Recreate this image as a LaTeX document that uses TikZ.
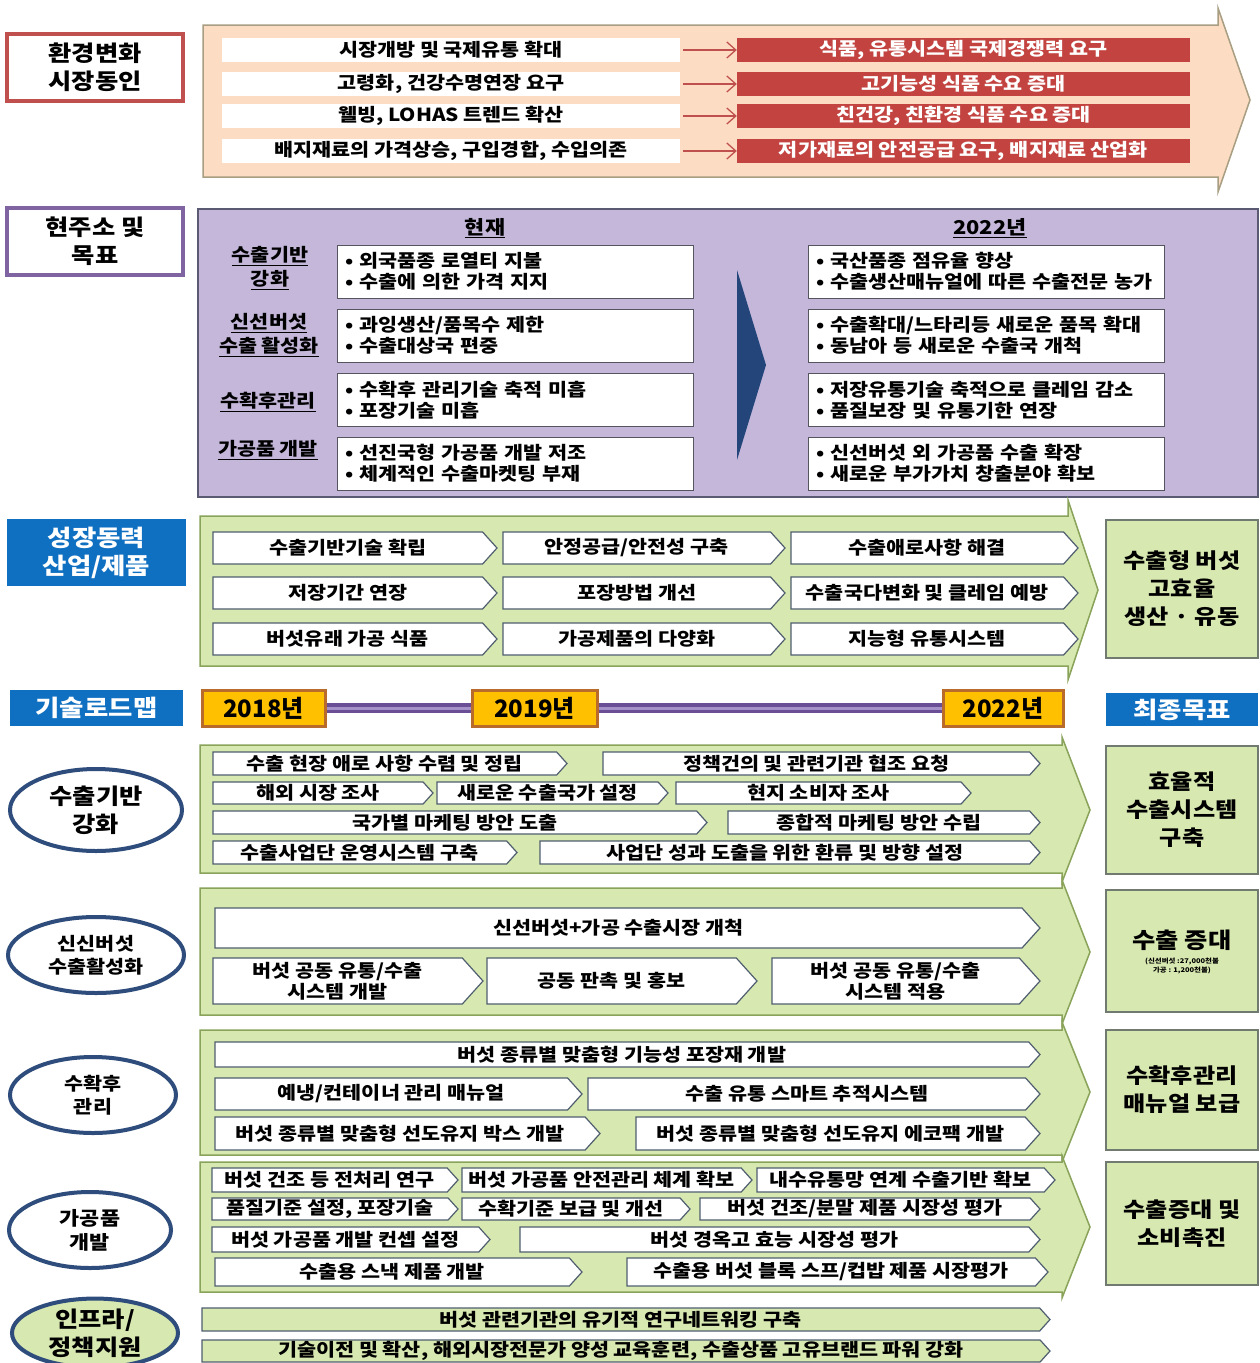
\documentclass[tikz,border=0pt]{standalone}
\usepackage{fontspec}
\setmainfont{Noto Sans CJK KR}[FakeStretch=1.15]
\newfontfamily\plainf{Noto Sans CJK KR}
\usetikzlibrary{arrows.meta,shapes.geometric}
\newcommand\fsz[2]{\fontsize{#1}{#2}\selectfont}
\definecolor{peach}{HTML}{FCDCC2}
\definecolor{peachline}{HTML}{A89E82}
\definecolor{redbox}{HTML}{C2433F}
\definecolor{redline}{HTML}{C0504D}
\definecolor{purfill}{HTML}{C4B7DA}
\definecolor{purline}{HTML}{8064A2}
\definecolor{purbox}{HTML}{5A5A72}
\definecolor{grnfill}{HTML}{D7E8B0}
\definecolor{grnline}{HTML}{8AA35A}
\definecolor{bluefill}{HTML}{0F6FC1}
\definecolor{ellline}{HTML}{2F4D7C}
\definecolor{gold}{HTML}{FFC000}
\definecolor{goldline}{HTML}{B86B2A}
\definecolor{navy}{HTML}{24457A}
\definecolor{chevline}{HTML}{4F5F70}
\definecolor{boxline}{HTML}{555560}
\definecolor{tlout}{HTML}{6A4F96}
\definecolor{tlin}{HTML}{A592C8}
\definecolor{goalline}{HTML}{707A70}
% box from corners: style, name, x1, y1, x2, y2, text
\newcommand\bx[7]{\node[#1, minimum width={#5-#3}, minimum height={#6-#4}] (#2) at ({(#3+#5)/2},{(#4+#6)/2}) {#7};}
% chevron: path style, node style, name, x1, y1, x2, y2, text
\newcommand\chv[8]{%
 \path[#1] (#4,#5) -- ({#6-0.45*(#7-#5)},#5) -- (#6,{(#5+#7)/2}) -- ({#6-0.45*(#7-#5)},#7) -- (#4,#7) -- cycle;
 \node[#2] (#3) at ({(#4+#6-0.45*(#7-#5))/2},{(#5+#7)/2}) {#8};}
\tikzset{
 lblbox/.style={fill=white, line width=4pt, inner sep=0pt, align=center, font=\fsz{22}{28}\bfseries},
 bluelbl/.style={fill=bluefill, text=white, inner sep=0pt, align=center, font=\fsz{23}{28}\bfseries},
 wrow/.style={fill=white, inner sep=0pt, font=\fsz{18}{22}\bfseries},
 rrow/.style={fill=redbox, text=white, inner sep=0pt, font=\fsz{18}{22}\bfseries},
 redarr/.style={draw=redline, line width=1.3pt, shorten <=3pt, -{Straight Barb[length=9pt,width=16pt]}},
 tbox/.style={draw=boxline, fill=white, line width=1pt, inner xsep=8pt, inner ysep=0pt, minimum height=53pt, text width=340pt, align=left, font=\fsz{18}{21}\bfseries},
 sublbl/.style={inner sep=0pt, align=center, font=\fsz{18}{24}\bfseries},
 bigarr/.style={draw=grnline, fill=grnfill, line width=1.5pt},
 chw/.style={draw=chevline, fill=white, line width=1.2pt},
 chg/.style={draw=chevline, fill=grnfill, line width=1.2pt},
 ctext/.style={inner sep=0pt, align=center, font=\fsz{18}{21}\bfseries},
 ctextb/.style={inner sep=0pt, align=center, font=\fsz{18}{22}\bfseries},
 goal/.style={draw=goalline, fill=grnfill, line width=1.5pt, inner sep=0pt, align=center, font=\fsz{21}{28}\bfseries},
 ell/.style={ellipse, draw=ellline, line width=4pt, fill=white, inner sep=0pt, align=center},
 yearbox/.style={draw=goldline, fill=gold, line width=3pt, inner sep=0pt, font=\plainf\fsz{24}{28}\bfseries}
}
\begin{document}
\begin{tikzpicture}[x=1pt,y=-1pt]
\useasboundingbox (0,0) rectangle (1260,1363);
\fill[white] (0,0) rectangle (1260,1363);

% ===== Section 1 =====
\bx{lblbox, draw=redline}{env}{7}{34}{183}{101}{환경변화\\시장동인}
\path[draw=peachline, fill=peach, line width=1.5pt] (203,25) -- (1218,25) -- (1218,8) -- (1250,100) -- (1218,192) -- (1218,177) -- (203,177) -- cycle;
\bx{wrow}{L1}{222}{38}{680}{62}{시장개방 및 국제유통 확대}
\bx{wrow}{L2}{222}{72}{680}{96}{고령화, 건강수명연장 요구}
\bx{wrow}{L3}{222}{104}{680}{128}{웰빙, LOHAS 트렌드 확산}
\bx{wrow}{L4}{222}{139}{680}{163}{배지재료의 가격상승, 구입경합, 수입의존}
\bx{rrow}{R1}{737}{38}{1190}{62}{식품, 유통시스템 국제경쟁력 요구}
\bx{rrow}{R2}{737}{72}{1190}{96}{고기능성 식품 수요 증대}
\bx{rrow}{R3}{737}{104}{1190}{128}{친건강, 친환경 식품 수요 증대}
\bx{rrow}{R4}{737}{139}{1190}{163}{저가재료의 안전공급 요구, 배지재료 산업화}
\foreach \i in {1,...,4} \draw[redarr] (L\i) -- (R\i);

% ===== Section 2 =====
\bx{lblbox, draw=purline}{cur}{7}{208}{183}{275}{현주소 및\\목표}
\path[draw=purbox, fill=purfill, line width=1.5pt] (198,209) rectangle (1258,497);
\node[sublbl, font=\fsz{19}{24}\bfseries] (hnow) at (485,228) {\underline{현재}};
\node[sublbl, font=\fsz{19}{24}\bfseries] (h2022) at (990,228) {\underline{2022년}};
\node[sublbl] (s1) at (270,268) {\underline{수출기반}\\\underline{강화}};
\node[sublbl] (s2) at (269,335) {\underline{신선버섯}\\\underline{수출 활성화}};
\node[sublbl] (s3) at (268,402) {\underline{수확후관리}};
\node[sublbl] (s4) at (268,450) {\underline{가공품 개발}};
\node[tbox] (c1) at (515,271.5) {• 외국품종 로열티 지불\\• 수출에 의한 가격 지지};
\node[tbox] (c2) at (515,335.5) {• 과잉생산/품목수 제한\\• 수출대상국 편중};
\node[tbox] (c3) at (515,400) {• 수확후 관리기술 축적 미흡\\• 포장기술 미흡};
\node[tbox] (c4) at (515,463.5) {• 선진국형 가공품 개발 저조\\• 체계적인 수출마켓팅 부재};
\node[tbox] (t1) at (986,271.5) {• 국산품종 점유율 향상\\• 수출생산매뉴얼에 따른 수출전문 농가};
\node[tbox] (t2) at (986,335.5) {• 수출확대/느타리등 새로운 품목 확대\\• 동남아 등 새로운 수출국 개척};
\node[tbox] (t3) at (986,400) {• 저장유통기술 축적으로 클레임 감소\\• 품질보장 및 유통기한 연장};
\node[tbox] (t4) at (986,463.5) {• 신선버섯 외 가공품 수출 확장\\• 새로운 부가가치 창출분야 확보};
\path[fill=navy] (737,270) -- (766,365) -- (737,460) -- cycle;

% ===== Section 3 =====
\bx{bluelbl}{grow}{7}{519}{186}{586}{성장동력\\산업/제품}
\path[bigarr] (200,516) -- (1068,516) -- (1068,500) -- (1098,590) -- (1068,680) -- (1068,666) -- (200,666) -- cycle;
\chv{chw}{ctextb}{g11}{213}{532}{497}{564}{수출기반기술 확립}
\chv{chw}{ctextb}{g12}{503}{532}{785}{564}{안정공급/안전성 구축}
\chv{chw}{ctextb}{g13}{791}{532}{1078}{564}{수출애로사항 해결}
\chv{chw}{ctextb}{g21}{213}{577}{497}{609}{저장기간 연장}
\chv{chw}{ctextb}{g22}{503}{577}{785}{609}{포장방법 개선}
\chv{chw}{ctextb}{g23}{791}{577}{1078}{609}{수출국다변화 및 클레임 예방}
\chv{chw}{ctextb}{g31}{213}{623}{497}{655}{버섯유래 가공 식품}
\chv{chw}{ctextb}{g32}{503}{623}{785}{655}{가공제품의 다양화}
\chv{chw}{ctextb}{g33}{791}{623}{1078}{655}{지능형 유통시스템}
\bx{goal}{G1}{1106}{520}{1258}{658}{수출형 버섯\\고효율\\생산 · 유동}

% ===== Timeline =====
\bx{bluelbl}{road}{10}{690}{183}{726}{기술로드맵}
\bx{yearbox}{Y18}{202}{690}{325}{726}{2018년}
\bx{yearbox}{Y19}{472}{690}{597}{726}{2019년}
\bx{yearbox}{Y22}{943}{690}{1063}{726}{2022년}
\draw[tlout, line width=10pt] (Y18) -- (Y19);
\draw[tlin, line width=3pt] (Y18) -- (Y19);
\draw[tlout, line width=10pt] (Y19) -- (Y22);
\draw[tlin, line width=3pt] (Y19) -- (Y22);
\bx{bluelbl}{final}{1106}{693}{1258}{726}{최종목표}

% ===== Section 4 =====
\node[ell, minimum width=172, minimum height=82, font=\fsz{22}{28}\bfseries] (e1) at (96,810) {수출기반\\강화};
\path[bigarr] (200,745) -- (1062,745) -- (1062,737) -- (1090,810) -- (1062,882) -- (1062,873) -- (200,873) -- cycle;
\chv{chw}{ctext}{a11}{213}{752}{567}{775}{수출 현장 애로 사항 수렴 및 정립}
\chv{chw}{ctext}{a12}{603}{752}{1040}{775}{정책건의 및 관련기관 협조 요청}
\chv{chw}{ctext}{a21}{213}{782}{433}{804}{해외 시장 조사}
\chv{chw}{ctext}{a22}{437}{782}{668}{804}{새로운 수출국가 설정}
\chv{chw}{ctext}{a23}{676}{782}{971}{804}{현지 소비자 조사}
\chv{chw}{ctext}{a31}{213}{811}{707}{834}{국가별 마케팅 방안 도출}
\chv{chw}{ctext}{a32}{728}{811}{1040}{834}{종합적 마케팅 방안 수립}
\chv{chw}{ctext}{a41}{213}{841}{517}{864}{수출사업단 운영시스템 구축}
\chv{chw}{ctext}{a42}{540}{841}{1040}{864}{사업단 성과 도출을 위한 환류 및 방향 설정}
\bx{goal}{G2}{1106}{746}{1258}{874}{효율적\\수출시스템\\구축}

% ===== Section 5 =====
\node[ell, minimum width=176, minimum height=76, font=\fsz{18}{23}\bfseries] (e2) at (96,955) {신신버섯\\수출활성화};
\path[bigarr] (200,888) -- (1062,888) -- (1062,880) -- (1090,952) -- (1062,1024) -- (1062,1015) -- (200,1015) -- cycle;
\chv{chw}{ctext}{b11}{215}{908}{1040}{948}{신선버섯+가공 수출시장 개척}
\chv{chw}{ctext}{b21}{213}{958}{483}{1004}{버섯 공동 유통/수출\\시스템 개발}
\chv{chw}{ctext}{b22}{487}{958}{757}{1004}{공동 판촉 및 홍보}
\chv{chw}{ctext}{b23}{772}{958}{1040}{1004}{버섯 공동 유통/수출\\시스템 적용}
\bx{goal}{G3}{1106}{890}{1258}{1012}{}
\node[inner sep=0pt, font=\fsz{22}{26}\bfseries] (G3a) at (1182,940) {수출 증대};
\node[inner sep=0pt, align=center, font=\fsz{6.5}{9}\bfseries] (G3b) at (1182,966) {(신선버섯 :27,000천불\\가공 : 1,200천불)};

% ===== Section 6 =====
\node[ell, minimum width=166, minimum height=76, font=\fsz{18}{23}\bfseries] (e3) at (93,1095) {수확후\\관리};
\path[bigarr] (200,1030) -- (1062,1030) -- (1062,1022) -- (1090,1092) -- (1062,1162) -- (1062,1155) -- (200,1155) -- cycle;
\chv{chw}{ctext}{c11}{215}{1042}{1040}{1067}{버섯 종류별 맞춤형 기능성 포장재 개발}
\chv{chw}{ctext}{c21}{215}{1078}{582}{1110}{예냉/컨테이너 관리 매뉴얼}
\chv{chw}{ctext}{c22}{588}{1078}{1040}{1110}{수출 유통 스마트 추적시스템}
\chv{chw}{ctext}{c31}{215}{1117}{600}{1150}{버섯 종류별 맞춤형 선도유지 박스 개발}
\chv{chw}{ctext}{c32}{636}{1117}{1040}{1150}{버섯 종류별 맞춤형 선도유지 에코팩 개발}
\bx{goal}{G4}{1106}{1030}{1258}{1150}{수확후관리\\매뉴얼 보급}

% ===== Section 7 =====
\node[ell, minimum width=162, minimum height=76, font=\fsz{19}{24}\bfseries] (e4) at (90,1230) {가공품\\개발};
\path[bigarr] (200,1162) -- (1062,1162) -- (1062,1156) -- (1090,1227) -- (1062,1298) -- (1062,1292) -- (200,1292) -- cycle;
\chv{chw}{ctext}{d11}{212}{1168}{458}{1192}{버섯 건조 등 전처리 연구}
\chv{chw}{ctext}{d12}{462}{1168}{752}{1192}{버섯 가공품 안전관리 체계 확보}
\chv{chw}{ctext}{d13}{757}{1168}{1055}{1192}{내수유통망 연계 수출기반 확보}
\chv{chw}{ctext}{d21}{212}{1198}{458}{1220}{품질기준 설정, 포장기술}
\chv{chw}{ctext}{d22}{462}{1198}{690}{1220}{수확기준 보급 및 개선}
\chv{chw}{ctext}{d23}{700}{1198}{1040}{1220}{버섯 건조/분말 제품 시장성 평가}
\chv{chw}{ctext}{d31}{212}{1227}{490}{1252}{버섯 가공품 개발 컨셉 설정}
\chv{chw}{ctext}{d32}{520}{1227}{1040}{1252}{버섯 경옥고 효능 시장성 평가}
\chv{chw}{ctext}{d41}{215}{1258}{582}{1286}{수출용 스낵 제품 개발}
\chv{chw}{ctext}{d42}{627}{1258}{1048}{1286}{수출용 버섯 블록 스프/컵밥 제품 시장평가}
\bx{goal}{G5}{1106}{1162}{1258}{1285}{수출증대 및\\소비촉진}

% ===== Section 8 =====
\node[ell, fill=grnfill, minimum width=166, minimum height=64, font=\fsz{22}{28}\bfseries] (e5) at (95,1333) {인프라/\\정책지원};
\chv{chg}{ctext}{f1}{202}{1308}{1050}{1331}{버섯 관련기관의 유기적 연구네트워킹 구축}
\chv{chg}{ctext, font=\fsz{18}{20}\bfseries}{f2}{202}{1340}{1050}{1362}{기술이전 및 확산, 해외시장전문가 양성 교육훈련, 수출상품 고유브랜드 파워 강화}
\end{tikzpicture}
\end{document}
